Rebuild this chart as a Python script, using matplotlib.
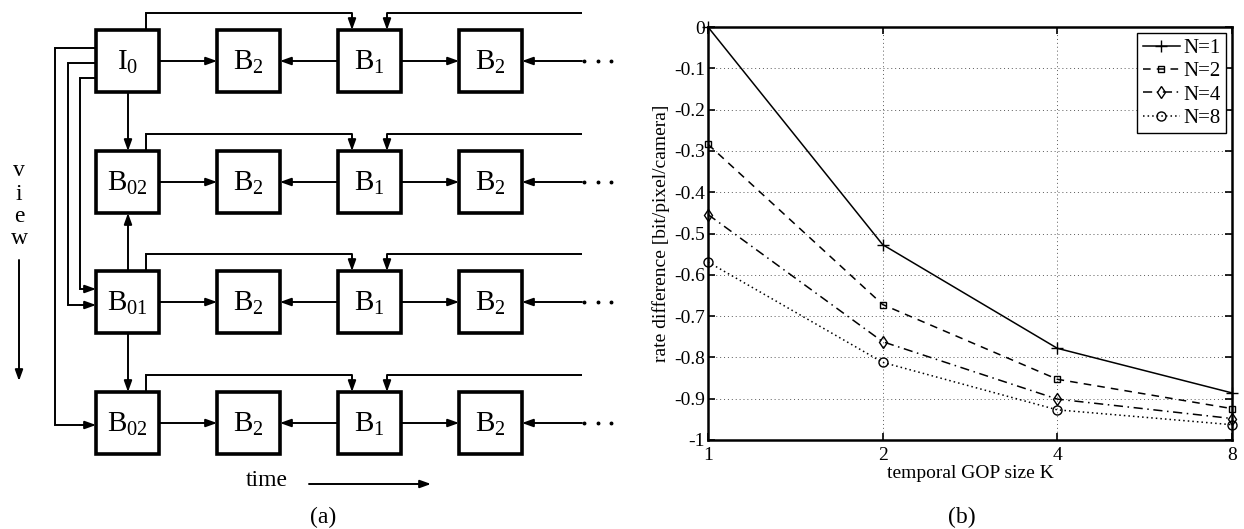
import matplotlib
matplotlib.use("Agg")
import matplotlib.pyplot as plt
from matplotlib.patches import Rectangle

plt.rcParams['font.family'] = ['Liberation Serif', 'DejaVu Serif']
plt.rcParams['mathtext.fontset'] = 'custom'
plt.rcParams['mathtext.rm'] = 'Liberation Serif'
plt.rcParams['mathtext.it'] = 'Liberation Serif:italic'
plt.rcParams['axes.unicode_minus'] = False

# ---------------- data (panel b) ----------------
gop_sizes = [1, 2, 4, 8]
series_labels = ['N=1', 'N=2', 'N=4', 'N=8']
rate_n1 = [0.0, -0.527, -0.778, -0.886]
rate_n2 = [-0.284, -0.672, -0.853, -0.924]
rate_n4 = [-0.454, -0.762, -0.901, -0.948]
rate_n8 = [-0.569, -0.812, -0.927, -0.963]
y_ticks = [0, -0.1, -0.2, -0.3, -0.4, -0.5, -0.6, -0.7, -0.8, -0.9, -1]
y_ticklabels = ['0', '-0.1', '-0.2', '-0.3', '-0.4', '-0.5', '-0.6', '-0.7', '-0.8', '-0.9', '-1']
x_ticklabels = ['1', '2', '4', '8']

# ---------------- diagram labels (panel a) ----------------
row_labels = [
    [r'I$_0$', r'B$_2$', r'B$_1$', r'B$_2$'],
    [r'B$_{02}$', r'B$_2$', r'B$_1$', r'B$_2$'],
    [r'B$_{01}$', r'B$_2$', r'B$_1$', r'B$_2$'],
    [r'B$_{02}$', r'B$_2$', r'B$_1$', r'B$_2$'],
]

W, H = 1244, 529
fig = plt.figure(figsize=(W / 100, H / 100), dpi=100)

# ---------------- panel (a): diagram in pixel coordinates ----------------
axd = fig.add_axes([0, 0, 1, 1])
axd.set_xlim(0, W)
axd.set_ylim(H, 0)
axd.axis('off')

col_x = [96, 217, 338, 459]
row_y = [30, 151, 271, 392]
bw, bh = 63, 62
LW = 1.4
BLW = 2.6
AST = '-|>,head_length=0.5,head_width=0.18'


def line(xs, ys):
    axd.plot(xs, ys, color='k', lw=LW, solid_capstyle='butt', solid_joinstyle='miter')


def arrow(x0, y0, x1, y1):
    axd.annotate('', xy=(x1, y1), xytext=(x0, y0),
                 arrowprops=dict(arrowstyle=AST, lw=LW, color='k',
                                 shrinkA=0, shrinkB=0, mutation_scale=13))


for r, ry in enumerate(row_y):
    yc = ry + bh / 2
    for c, cx in enumerate(col_x):
        axd.add_patch(Rectangle((cx, ry), bw, bh, fill=False, lw=BLW,
                                edgecolor='k', joinstyle='miter'))
        axd.text(cx + bw / 2, yc + 1, row_labels[r][c], ha='center', va='center',
                 fontsize=21)
    # horizontal arrows
    arrow(col_x[0] + bw, yc, col_x[1], yc)
    arrow(col_x[2], yc, col_x[1] + bw, yc)
    arrow(col_x[2] + bw, yc, col_x[3], yc)
    arrow(582, yc, col_x[3] + bw, yc)
    axd.plot([584, 598, 611], [yc, yc, yc], ls='none', marker='o', ms=1.8, color='k')
    # top links
    ty = ry - 17
    line([col_x[0] + 50, col_x[0] + 50, col_x[2] + 14], [ry, ty, ty])
    arrow(col_x[2] + 14, ty, col_x[2] + 14, ry)
    line([582, col_x[2] + 49], [ty, ty])
    arrow(col_x[2] + 49, ty, col_x[2] + 49, ry)

# vertical arrows between views
vx = col_x[0] + 32
arrow(vx, row_y[0] + bh, vx, row_y[1])
arrow(vx, row_y[2], vx, row_y[1] + bh)
arrow(vx, row_y[2] + bh, vx, row_y[3])

# left feedback links
line([96, 55, 55, 80], [48, 48, 425, 425])
arrow(80, 425, 96, 425)
line([96, 68, 68, 80], [63, 63, 305, 305])
arrow(80, 305, 96, 305)
line([96, 80, 80, 84], [78, 78, 289, 289])
arrow(84, 289, 96, 289)

# view label
for ch, yy in zip('view', [170, 194, 216, 238]):
    axd.text(19, yy, ch, ha='center', va='center', fontsize=17)
arrow(19, 260, 19, 381)

# time label
axd.text(267, 481, 'time', ha='center', va='center', fontsize=17)
arrow(309, 484, 431, 484)

axd.text(323, 517, '(a)', ha='center', va='center', fontsize=17)
axd.text(962, 517, '(b)', ha='center', va='center', fontsize=17)

# ---------------- panel (b): line chart ----------------
ax = fig.add_axes([708 / W, 1 - 440 / H, (1232 - 708) / W, (440 - 27) / H])
styles = [
    dict(ls='-', marker='+', ms=8, mew=1.0),
    dict(ls=(0, (5, 4)), marker='s', ms=5, mew=1.0),
    dict(ls=(0, (6, 3, 1, 3)), marker='d', ms=6, mew=1.0),
    dict(ls=(0, (1, 2)), marker='o', ms=6.5, mew=1.0),
]
for vals, lab, st in zip([rate_n1, rate_n2, rate_n4, rate_n8], series_labels, styles):
    ax.plot(gop_sizes, vals, color='k', lw=1.1, mfc='none', mec='k', label=lab,
            clip_on=False, **st)

ax.set_xscale('log', base=2)
ax.set_xlim(1, 8)
ax.set_ylim(-1, 0)
ax.set_xticks(gop_sizes)
ax.set_xticklabels(x_ticklabels)
ax.xaxis.set_minor_locator(matplotlib.ticker.NullLocator())
ax.set_yticks(y_ticks)
ax.set_yticklabels(y_ticklabels)
ax.tick_params(direction='in', top=True, right=True, length=5, width=1.2,
               labelsize=14)
ax.tick_params(axis='y', pad=2)
ax.tick_params(axis='x', pad=5)
ax.grid(True, ls=(0, (1, 3)), color='0.35', lw=0.7)
for sp in ax.spines.values():
    sp.set_linewidth(1.8)
ax.set_xlabel('temporal GOP size K', fontsize=14, labelpad=1)
ax.set_ylabel('rate difference [bit/pixel/camera]', fontsize=14, labelpad=3)

leg = ax.legend(loc='upper right', fontsize=15, numpoints=1, fancybox=False,
                edgecolor='k', framealpha=1, handlelength=1.8, handletextpad=0.15,
                borderpad=0.25, labelspacing=0.18, borderaxespad=0.3)
leg.get_frame().set_linewidth(1.0)

fig.savefig('out.png', dpi=100)
